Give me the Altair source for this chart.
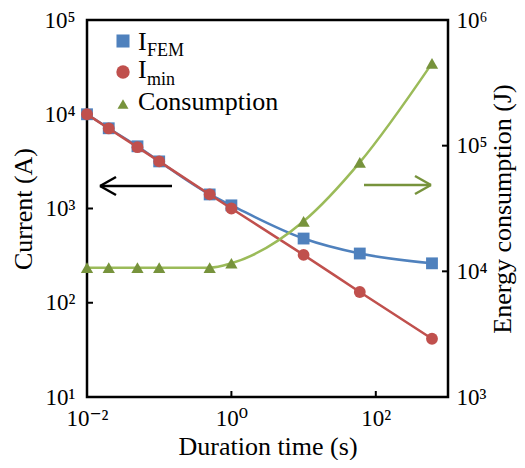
import altair as alt
import pandas as pd

# ---- data ----
duration_s = [0.01, 0.02, 0.05, 0.1, 0.5, 1, 10, 60, 600]
i_fem = [10000, 7100, 4570, 3160, 1410, 1080, 480, 333, 262]
i_min = [10000, 7070, 4470, 3160, 1410, 1000, 322, 130, 41.5]
energy = [10700, 10700, 10700, 10700, 10700, 11600, 25000, 73600, 452000]

x_ticks = [0.01, 1, 100]
x_labels = ["10⁻²", "10⁰", "10²"]
cur_ticks = [10, 100, 1000, 10000, 100000]
cur_labels = ["10¹", "10²", "10³", "10⁴", "10⁵"]
en_ticks = [1000, 10000, 100000, 1000000]
en_labels = ["10³", "10⁴", "10⁵", "10⁶"]
x_inner_ticks = [1, 100]
cur_inner_ticks = [100, 1000, 10000]
en_inner_ticks = [10000, 100000]

FONT = "Times New Roman, Liberation Serif, DejaVu Serif, serif"
BLUE = "#4F81BD"
RED = "#C0504D"
GREEN_M = "#77933C"
GREEN_L = "#9BBB59"

df = pd.DataFrame({"t": duration_s, "i_fem": i_fem, "i_min": i_min, "energy": energy})


def label_expr(vals, labels):
    s = "''"
    for v, l in reversed(list(zip(vals, labels))):
        s = f"abs(datum.value - {v}) < {v * 1e-6} ? '{l}' : ({s})"
    return s


x_scale = alt.Scale(type="log", domain=[0.01, 1000])
x_axis = alt.Axis(values=x_ticks, labelExpr=label_expr(x_ticks, x_labels),
                  title="Duration time (s)", ticks=False, domain=False, grid=False,
                  labelFlush=False, labelPadding=10, titlePadding=3)
cur_scale = alt.Scale(type="log", domain=[10, 100000])
cur_axis = alt.Axis(values=cur_ticks, labelExpr=label_expr(cur_ticks, cur_labels),
                    title="Current (A)", ticks=False, domain=False, grid=False,
                    labelFlush=False, labelPadding=12, titlePadding=7)
en_scale = alt.Scale(type="log", domain=[1000, 1000000])
en_axis = alt.Axis(values=en_ticks, labelExpr=label_expr(en_ticks, en_labels),
                   title="Energy consumption (J)", orient="right", titleAngle=270,
                   titleBaseline="top", labelFlush=False,
                   ticks=False, domain=False, grid=False, labelPadding=8, titlePadding=2)

X = alt.X("t:Q", scale=x_scale, axis=x_axis)
base = alt.Chart(df)

fem_line = base.mark_line(color=BLUE, strokeWidth=2.5, interpolate="monotone").encode(
    x=X, y=alt.Y("i_fem:Q", scale=cur_scale, axis=cur_axis))
fem_pts = base.mark_point(shape="square", filled=True, opacity=1, size=140, color=BLUE).encode(
    x=X, y=alt.Y("i_fem:Q", scale=cur_scale, axis=cur_axis))
min_line = base.mark_line(color=RED, strokeWidth=2.5, interpolate="monotone").encode(
    x=X, y=alt.Y("i_min:Q", scale=cur_scale, axis=cur_axis))
min_pts = base.mark_point(shape="circle", filled=True, opacity=1, size=140, color=RED).encode(
    x=X, y=alt.Y("i_min:Q", scale=cur_scale, axis=cur_axis))

cur_tick_rules = alt.Chart(pd.DataFrame({"i_fem": cur_inner_ticks})).mark_rule(
    color="black", strokeWidth=2).encode(
    y=alt.Y("i_fem:Q", scale=cur_scale, axis=cur_axis), x=alt.value(0), x2=alt.value(6))
x_tick_rules = alt.Chart(pd.DataFrame({"t": x_inner_ticks})).mark_rule(
    color="black", strokeWidth=2).encode(
    x=X, y=alt.value(377), y2=alt.value(371))

left = alt.layer(cur_tick_rules, x_tick_rules, fem_line, fem_pts, min_line, min_pts)

en_line = base.mark_line(color=GREEN_L, strokeWidth=2.5, interpolate="monotone").encode(
    x=X, y=alt.Y("energy:Q", scale=en_scale, axis=en_axis))
en_pts = base.mark_point(shape="triangle-up", filled=True, opacity=1, size=150, color=GREEN_M).encode(
    x=X, y=alt.Y("energy:Q", scale=en_scale, axis=en_axis))
en_tick_rules = alt.Chart(pd.DataFrame({"energy": en_inner_ticks})).mark_rule(
    color="black", strokeWidth=2).encode(
    y=alt.Y("energy:Q", scale=en_scale, axis=en_axis), x=alt.value(361), x2=alt.value(355))

right = alt.layer(en_tick_rules, en_line, en_pts)

# ---- legend (manual, to allow subscripts) ----
one = pd.DataFrame({"k": [0]})


def sym(shape, color, y, size):
    return alt.Chart(one).mark_point(shape=shape, filled=True, opacity=1, color=color, size=size).encode(
        x=alt.value(36), y=alt.value(y))


def txt(text, x, y, size):
    return alt.Chart(one).mark_text(text=text, font=FONT, fontSize=size, color="black",
                                    align="left", baseline="alphabetic").encode(
        x=alt.value(x), y=alt.value(y))


legend = [
    sym("square", BLUE, 21, 170), txt("I", 51, 30, 26), txt("FEM", 60, 36, 18),
    sym("circle", RED, 52, 180), txt("I", 51, 58, 26), txt("min", 60, 65, 18),
    sym("triangle-up", GREEN_M, 84, 120), txt("Consumption", 51, 90, 26),
]


def seg(x1, y1, x2, y2, color):
    return alt.Chart(one).mark_rule(color=color, strokeWidth=2.5).encode(
        x=alt.value(x1), y=alt.value(y1), x2=alt.value(x2), y2=alt.value(y2))


arrows = [
    seg(13, 166, 85, 166, "black"), seg(13, 166, 29, 157, "black"), seg(13, 166, 29, 175, "black"),
    seg(277, 165, 344, 165, GREEN_M), seg(344, 165, 328, 156, GREEN_M), seg(344, 165, 328, 174, GREEN_M),
]

chart = alt.layer(left, right, *legend, *arrows).resolve_scale(y="independent").properties(
    width=361, height=377,
    autosize=alt.AutoSizeParams(type="none"),
    padding={"left": 79, "top": 12, "right": 69, "bottom": 63},
).configure_view(stroke="black", strokeWidth=2.5).configure_axis(
    labelFont=FONT, titleFont=FONT, labelFontSize=23, titleFontSize=26,
    labelColor="black", titleColor="black", titleFontWeight="normal")

chart.save("out.html", embed_options={"renderer": "svg", "actions": False})
